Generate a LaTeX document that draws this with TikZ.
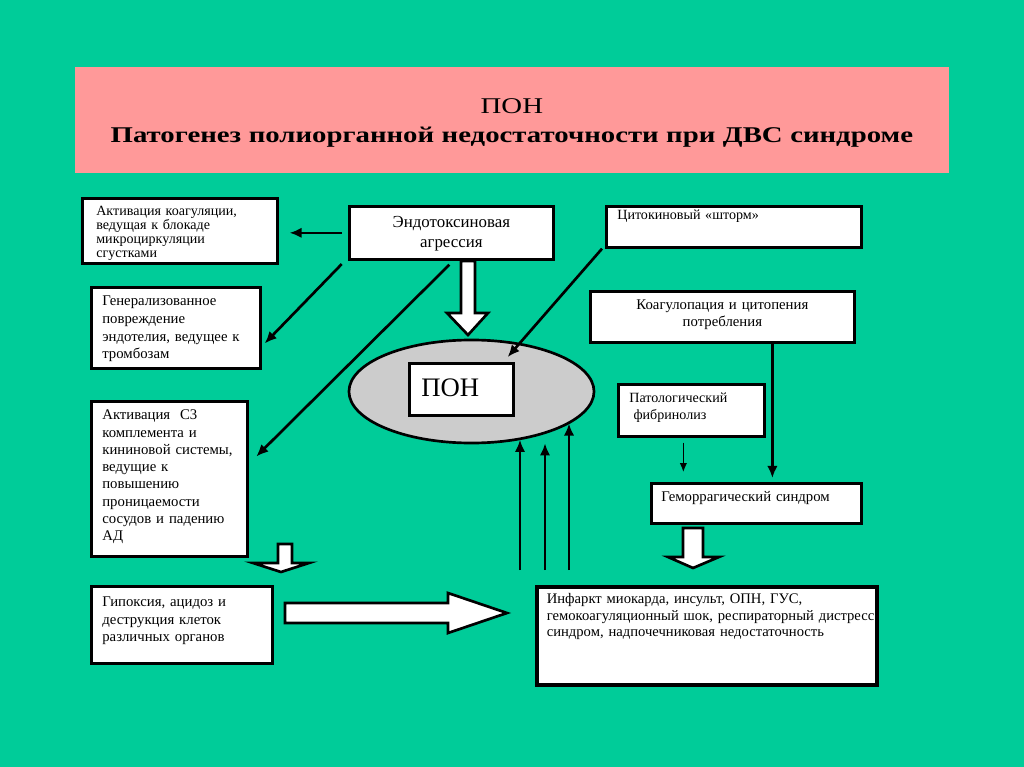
\documentclass[tikz,border=0pt]{standalone}
\usepackage{fontspec}
\setmainfont{Liberation Serif}
\newfontfamily\titlefont[FakeStretch=1.28]{Liberation Serif}
\usepackage{xcolor}
\usetikzlibrary{arrows.meta,shapes.geometric}
\definecolor{bggreen}{RGB}{0,204,153}
\definecolor{titlepink}{RGB}{255,153,153}
\definecolor{ellgray}{RGB}{204,204,204}
\newcommand{\fsz}[2]{\fontsize{#1}{#2}\selectfont}

\begin{document}
\begin{tikzpicture}[x=0.025cm,y=-0.025cm,
    box/.style={draw,fill=white,line width=1.9pt,anchor=north west,inner ysep=0pt,align=left},
    arr/.style={-{Latex[length=0.3cm,width=0.26cm]},line width=1.9pt},
    thinarr/.style={-{Latex[length=0.22cm,width=0.18cm]},line width=0.8pt},
    hollow/.style={draw,fill=white,line width=1.9pt,line join=miter}]
      \fill[bggreen](0,0)rectangle(1024,767);
      \node[anchor=north west,fill=titlepink,inner sep=0pt,text width=21.825cm,align=center,text height=1.15cm,text depth=1.5cm,font=\titlefont\fsz{16}{20.6}](ttl)at(75,67){ПОН\\\textbf{Патогенез полиорганной недостаточности при ДВС синдроме}};
      \node[box,text width=4.175cm,inner xsep=0.35cm,text height=0.425cm,text depth=1.2cm,font=\fsz{10}{10}](act)at(81,197){Активация коагуляции,\\ведущая к блокаде\\микроциркуляции\\сгустками};
      \node[box,align=center,text width=4.6cm,inner xsep=0.25cm,text height=0.525cm,text depth=0.8cm,font=\fsz{12}{14.3}](endo)at(348,205){Эндотоксиновая\\агрессия};
      \node[box,text width=5.825cm,inner xsep=0.275cm,text height=0.33cm,text depth=0.695cm,font=\fsz{10}{12}](cyto)at(605,205){Цитокиновый «шторм»};
      \node[box,text width=3.675cm,inner xsep=0.275cm,text height=0.46cm,text depth=1.565cm,font=\fsz{10.5}{12.6}](gen)at(90,286){Генерализованное\\повреждение\\эндотелия, ведущее к\\тромбозам};
      \node[box,align=center,text width=6.1cm,inner xsep=0.25cm,text height=0.46cm,text depth=0.815cm,font=\fsz{10.5}{12}](kp)at(589,290){Коагулопация и цитопения\\потребления};
      \node[ellipse,draw,fill=ellgray,line width=1.9pt,minimum width=6.125cm,minimum height=2.575cm](ell)at(471.5,391.5){};
      \node[box,text width=2.0cm,inner xsep=0.3cm,text height=0.825cm,text depth=0.475cm,font=\fsz{19}{22}](pon)at(408,362){ПОН};
      \node[box,text width=3.1cm,inner xsep=0.275cm,text height=0.46cm,text depth=0.84cm,font=\fsz{10}{11.7}](fib)at(617,383){Патологический\\\hspace*{3pt}фибринолиз};
      \node[box,text width=3.35cm,inner xsep=0.275cm,text height=0.46cm,text depth=3.415cm,font=\fsz{10.5}{12.3}](cmp)at(90,400){Активация\ \ С3\\комплемента и\\кининовой системы,\\ведущие к\\повышению\\проницаемости\\сосудов и падению\\АД};
      \node[box,text width=4.75cm,inner xsep=0.25cm,text height=0.46cm,text depth=0.54cm,font=\fsz{10.5}{12}](hem)at(650,482){Геморрагический синдром};
      \node[box,text width=3.975cm,inner xsep=0.275cm,text height=0.51cm,text depth=1.415cm,font=\fsz{10.5}{12.5}](hyp)at(90,585){Гипоксия, ацидоз и\\деструкция клеток\\различных органов};
      \node[box,line width=2.6pt,text width=8.0cm,inner xsep=0.25cm,text height=0.41cm,text depth=2.04cm,font=\fsz{10.4}{12}](inf)at(535,585){\mbox{Инфаркт миокарда, инсульт, ОПН, ГУС,}\\\mbox{гемокоагуляционный шок, респираторный дистресс}\\\mbox{синдром, надпочечниковая недостаточность}};
      \draw[arr,shorten <=0.15cm,shorten >=0.27cm](endo.west)--(endo.west -| act.east);
      \draw[arr,shorten <=0.12cm]([xshift=-0.075cm]endo.south west)--([xshift=0.075cm,yshift=-0.39cm]gen.east);
      \draw[arr]([xshift=-0.05cm,yshift=-0.1cm]endo.south)--([xshift=0.19cm,yshift=0.56cm]cmp.east);
      \draw[arr]([xshift=-0.075cm]cyto.south west)--([xshift=-0.175cm,yshift=0.125cm]pon.north east);
      \draw[arr,shorten >=0.1cm]([xshift=1.25cm]kp.south)--([xshift=1.25cm]kp.south |- hem.north);
      \draw[thinarr,shorten <=0.125cm,shorten >=0.25cm]([xshift=-0.2cm]fib.south)--([xshift=-0.2cm]fib.south |- hem.north);
      \coordinate(u1)at(520,570);
      \coordinate(u2)at(545,570);
      \coordinate(u3)at(569,570);
      \draw[arr](u1)--(u1 |- ell.-44);
      \draw[arr,shorten >=0.25cm](u2)--(u2 |- ell.-29);
      \draw[arr](u3)--(u3 |- ell.-18);
      \draw[hollow](461,261)--(475,261)--(475,313)--(488,313)--(468,335)--(447,313)--(461,313)--cycle;
      \draw[hollow](278,544)--(292,544)--(292,563)--(309,563)--(281,572)--(253,563)--(278,563)--cycle;
      \draw[hollow](683,528)--(703,528)--(703,557)--(719,557)--(693,568)--(668,557)--(683,557)--cycle;
      \draw[hollow](285,603)--(448,603)--(448,593)--(507,613)--(448,633)--(448,623)--(285,623)--cycle;
    \end{tikzpicture}
\end{document}
